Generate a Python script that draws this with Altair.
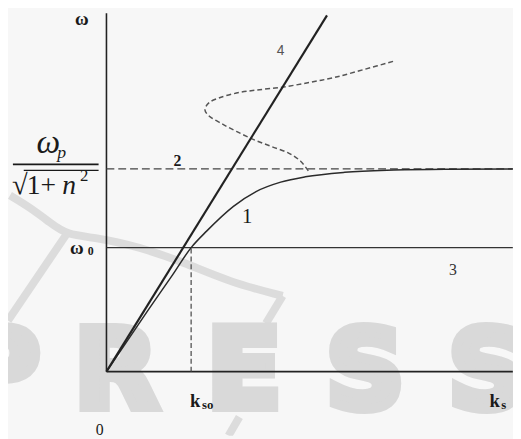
import altair as alt
import pandas as pd

# ---------------- data (k in units of k_so, omega in units of omega_0) ----------------
k_so = 1.0
omega_0 = 1.0
omega_lim = 1.635          # omega_p / sqrt(1 + n^2)
k_end = 4.80
omega_top = 2.889

# curve 1 (solid dispersion branch)
curve1_k = [0.0, 0.488, 0.779, 1.0, 1.186, 1.5, 1.767, 2.058, 2.349, 2.814, 3.395, 4.0, 4.80]
curve1_w = [0.0, 0.492, 0.778, 1.0, 1.135, 1.333, 1.452, 1.528, 1.571, 1.607, 1.625, 1.632, 1.634]

# dashed S-shaped branch
wave_k = [2.384, 2.291, 2.151, 1.942, 1.733, 1.535, 1.360, 1.209, 1.163, 1.209, 1.326,
          1.535, 1.767, 2.081, 2.407, 2.698, 3.047, 3.419]
wave_w = [1.619, 1.698, 1.762, 1.817, 1.873, 1.937, 2.000, 2.063, 2.111, 2.167, 2.206,
          2.246, 2.270, 2.294, 2.333, 2.373, 2.437, 2.508]

# line 4 (straight light line)
line4_k = [0.0, 2.605]
line4_w = [0.0, 2.873]

# watermark
wm_letters = ["P", "R", "E", "S", "S"]
wm_k = [-1.256, 0.116, 1.628, 3.058, 4.50]
wm_w = [-0.286] * 5

swoosh_id = [0] * 9 + [1, 1] + [2, 2] + [3, 3]
swoosh_k = [-1.140, -0.907, -0.674, -0.477, -0.093, 0.372, 0.919, 1.453, 2.081,
            2.081, 1.884,
            -0.477, -1.163,
            1.570, 1.442]
swoosh_w = [1.421, 1.325, 1.206, 1.103, 1.079, 1.008, 0.881, 0.722, 0.611,
            0.611, 0.389,
            1.103, 0.413,
            -0.365, -0.516]

SERIF = "'Liberation Serif', 'Times New Roman', serif"

# ---------------- scales ----------------
xs = alt.Scale(domain=[-1.163, 4.802], nice=False, zero=False)
ys = alt.Scale(domain=[-0.516, 2.905], nice=False, zero=False)


def X(f):
    return alt.X(f, type="quantitative", scale=xs, axis=None)


def Y(f):
    return alt.Y(f, type="quantitative", scale=ys, axis=None)


def rule(k1, w1, k2, w2, **style):
    df = pd.DataFrame({"k": [k1], "w": [w1], "k2": [k2], "w2": [w2]})
    return alt.Chart(df).mark_rule(**style).encode(
        x=X("k"), y=Y("w"), x2=alt.X2("k2"), y2=alt.Y2("w2"))


def txt(k, w, s, size, font=SERIF, **style):
    df = pd.DataFrame({"k": [k], "w": [w], "t": [s]})
    style.setdefault("align", "left")
    style.setdefault("baseline", "alphabetic")
    style.setdefault("color", "#1a1a1a")
    return alt.Chart(df).mark_text(fontSize=size, font=font, **style).encode(
        x=X("k"), y=Y("w"), text="t:N")


# ---------------- watermark ----------------
wm = alt.Chart(pd.DataFrame({"k": wm_k, "w": wm_w, "t": wm_letters})).mark_text(
    font="DejaVu Sans", fontWeight="bold", fontSize=110, color="#d9d9d9",
    stroke="#d9d9d9", strokeWidth=10, strokeJoin="miter",
    align="center", baseline="alphabetic").encode(x=X("k"), y=Y("w"), text="t:N")

swoosh = alt.Chart(pd.DataFrame({"k": swoosh_k, "w": swoosh_w, "g": swoosh_id,
                                 "o": list(range(len(swoosh_k)))})).mark_line(
    color="#dcdcdc", strokeWidth=8, strokeCap="butt", interpolate="basis",
    clip=True).encode(x=X("k"), y=Y("w"), detail="g:N", order="o:Q")

# ---------------- axes & reference lines ----------------
axis_v = rule(0, 0, 0, omega_top, color="#222", strokeWidth=1.6)
axis_h = rule(0, 0, k_end, 0, color="#222", strokeWidth=1.6)
line3 = rule(0, omega_0, k_end, omega_0, color="#333", strokeWidth=1.3)
line2 = rule(0, omega_lim, k_end, omega_lim, color="#444", strokeWidth=1.4, strokeDash=[8, 4])
kso_line = rule(k_so, 0, k_so, omega_0, color="#444", strokeWidth=1.2, strokeDash=[5, 3])

line4 = alt.Chart(pd.DataFrame({"k": line4_k, "w": line4_w})).mark_line(
    color="#222", strokeWidth=2.2).encode(x=X("k"), y=Y("w"))

curve1 = alt.Chart(pd.DataFrame({"k": curve1_k, "w": curve1_w})).mark_line(
    color="#2a2a2a", strokeWidth=1.5, interpolate="monotone").encode(x=X("k"), y=Y("w"))

wave = alt.Chart(pd.DataFrame({"k": wave_k, "w": wave_w, "o": list(range(len(wave_k)))})).mark_line(
    color="#555", strokeWidth=1.5, strokeDash=[5, 3], interpolate="catmull-rom").encode(
    x=X("k"), y=Y("w"), order="o:Q")

# ---------------- labels ----------------
labels = [
    txt(-0.291, 2.794, "ω", 19, fontWeight="bold", align="center"),
    # omega_p / sqrt(1+n^2)
    txt(-0.686, 1.762, "ω", 34, fontStyle="italic", align="center"),
    txt(-0.581, 1.722, "p", 18, fontStyle="italic"),
    rule(-1.105, 1.671, -0.093, 1.671, color="#1a1a1a", strokeWidth=1.6),
    txt(-1.116, 1.429, "√", 29),
    rule(-0.977, 1.623, -0.093, 1.623, color="#1a1a1a", strokeWidth=1.2),
    txt(-0.942, 1.429, "1+", 28),
    txt(-0.523, 1.429, "n", 28, fontStyle="italic"),
    txt(-0.314, 1.540, "2", 17),
    # curve numbers
    txt(0.837, 1.659, "2", 16, fontWeight="bold", align="center"),
    txt(2.058, 2.556, "4", 14, font="Liberation Sans", color="#555", align="center"),
    txt(1.663, 1.198, "1", 21, align="center"),
    txt(4.093, 0.778, "3", 16, color="#333", align="center"),
    # omega_0
    txt(-0.43, 0.952, "ω", 19, fontWeight="bold"),
    txt(-0.221, 0.937, "0", 12, fontWeight="bold"),
    # k_so, k_s, origin
    txt(0.988, -0.286, "k", 19, fontWeight="bold"),
    txt(1.128, -0.302, "so", 13, fontWeight="bold"),
    txt(4.523, -0.286, "k", 19, fontWeight="bold"),
    txt(4.663, -0.302, "s", 13, fontWeight="bold"),
    txt(-0.081, -0.508, "0", 16, align="center"),
]

chart = alt.layer(
    swoosh, wm, axis_v, axis_h, line3, line2, kso_line, wave, curve1, line4, *labels
).properties(
    width=513, height=431, padding=0, background="#f7f7f7",
    autosize=alt.AutoSizeParams(type="none"),
).configure_view(stroke=None)

chart.save("out.html", embed_options={"renderer": "svg", "actions": False})
